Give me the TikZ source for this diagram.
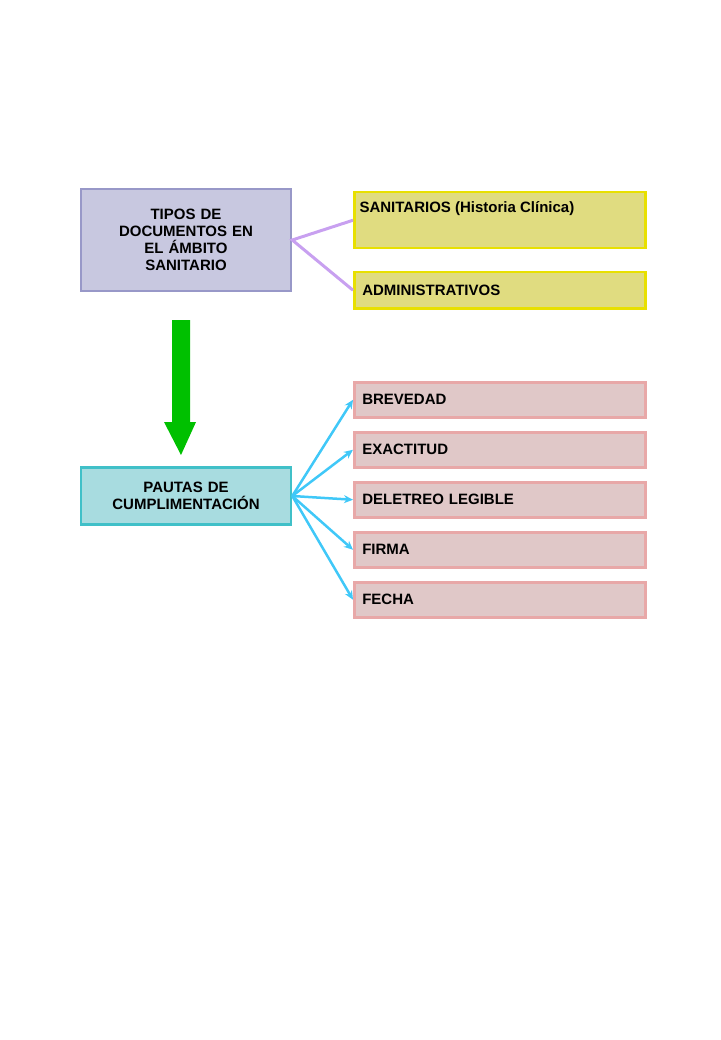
\documentclass[tikz,border=0pt]{standalone}
\usepackage{fontspec}
\setmainfont{Liberation Sans}
\usetikzlibrary{arrows.meta}
\definecolor{tipofill}{HTML}{C8C8E0}
\definecolor{tipoline}{HTML}{9898C8}
\definecolor{yelfill}{HTML}{E0DC80}
\definecolor{yelline}{HTML}{E8E000}
\definecolor{pautafill}{HTML}{A8DCE0}
\definecolor{pautaline}{HTML}{40C0C8}
\definecolor{pinkfill}{HTML}{E0C8C8}
\definecolor{pinkline}{HTML}{E8A8A8}
\definecolor{lila}{HTML}{C8A0F0}
\definecolor{celeste}{HTML}{40C8F8}
\definecolor{verde}{HTML}{00C000}
\tikzset{
  txt/.style={font=\fontsize{15}{17}\selectfont\bfseries},
  mainbox/.style={txt,draw,line width=2.5pt,minimum width=210pt,align=center,text width=200pt},
  rightbox/.style={txt,draw,line width=2.5pt,minimum width=291pt,text width=275pt,align=left,anchor=north west},
}
\begin{document}
\begin{tikzpicture}[x=1pt,y=-1pt]
    \useasboundingbox (0,0) rectangle (720,1040);
    % left boxes
    \node[mainbox,fill=tipofill,draw=tipoline,minimum height=102pt] (tipos) at (186,240) {TIPOS DE\\DOCUMENTOS EN\\EL ÁMBITO\\SANITARIO};
    \node[mainbox,fill=pautafill,draw=pautaline,minimum height=57pt] (pautas) at (186,496) {PAUTAS DE\\CUMPLIMENTACIÓN};
    % right yellow boxes
    \node[rightbox,fill=yelfill,draw=yelline,minimum height=56pt] (sanit) at (353,191) {};
    \node[txt,anchor=north west] at (356,198) {SANITARIOS (Historia Clínica)};
    \node[rightbox,fill=yelfill,draw=yelline,minimum height=36pt] (admin) at (353,271) {ADMINISTRATIVOS};
    % right pink boxes
    \foreach \name/\txt [count=\i from 0] in {brev/BREVEDAD,exac/EXACTITUD,delet/DELETREO LEGIBLE,firma/FIRMA,fecha/FECHA}
      \node[rightbox,fill=pinkfill,draw=pinkline,minimum height=35pt] (\name) at (353,381+50*\i) {\txt};
    % connectors
    \draw[lila,line width=3pt] (sanit.west) -- (tipos.east) -- (admin.west);
    \foreach \name in {brev,exac,delet,firma,fecha}
      \draw[celeste,line width=2.5pt,-{Stealth[length=9pt,width=8pt]}] (pautas.east) -- (\name.west);
    % green arrow
    \coordinate (atop) at (181,320);
    \coordinate (abot) at (181,455);
    \fill[verde] (172,320) -- (190,320) -- (190,422) -- (196,422) -- (abot) -- (164,422) -- (172,422) -- cycle;
\end{tikzpicture}
\end{document}
